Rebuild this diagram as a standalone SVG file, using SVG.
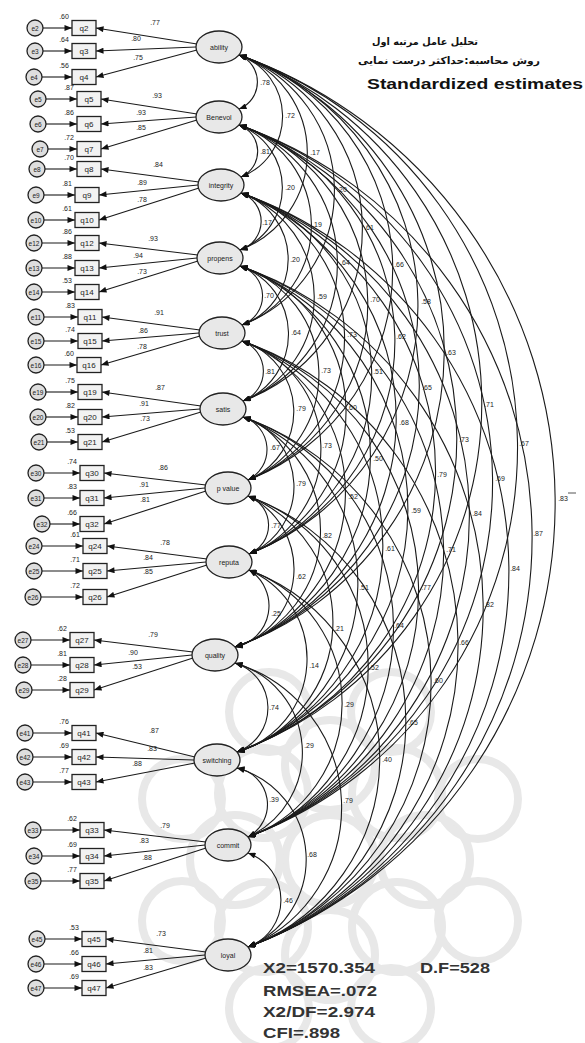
<svg xmlns="http://www.w3.org/2000/svg" width="585" height="1043" viewBox="0 0 585 1043">
<defs>
<style>
.bg{fill:#ffffff}
.wm{fill:none;stroke:#e8e8e8;stroke-width:8}
.ln{stroke:#1a1a1a;stroke-width:1.1;fill:none}
.ld{marker-end:url(#ah)}
.cv{marker-start:url(#ah);marker-end:url(#ah)}
.lat ellipse{fill:#e8e8e8;stroke:#222;stroke-width:1.3}
.obs rect{fill:#f2f2f2;stroke:#222;stroke-width:1.3}
.err circle{fill:#dedede;stroke:#222;stroke-width:1.3}
.t{font-family:"Liberation Sans",Arial,sans-serif;fill:#222;text-anchor:middle}
.s6{font-size:6.5px}
.s7{font-size:7px}
.s8{font-size:8px}
.fa{font-family:"DejaVu Sans","Noto Sans",sans-serif;fill:#111;font-size:10px;font-weight:bold}
.fit{font-family:"Liberation Sans",Arial,sans-serif;font-weight:bold;font-size:15px;fill:#333}
</style>
<marker id="ah" viewBox="0 0 10 8" refX="10" refY="4" markerWidth="9" markerHeight="6" markerUnits="userSpaceOnUse" orient="auto-start-reverse"><path d="M0,0 L10,4 L0,8 z" fill="#111"/></marker>
</defs>
<rect class="bg" x="0" y="0" width="585" height="1043"/>
<g id="watermark" class="wm">
<circle cx="330" cy="860" r="45"/>
<circle cx="425" cy="860" r="45"/><circle cx="397" cy="927" r="45"/><circle cx="330" cy="955" r="45"/><circle cx="263" cy="927" r="45"/>
<circle cx="235" cy="860" r="45"/><circle cx="263" cy="793" r="45"/><circle cx="330" cy="765" r="45"/><circle cx="397" cy="793" r="45"/>
<circle cx="478" cy="921" r="40"/><circle cx="391" cy="1008" r="40"/><circle cx="269" cy="1008" r="40"/><circle cx="182" cy="921" r="40"/>
<circle cx="182" cy="799" r="40"/><circle cx="269" cy="712" r="40"/><circle cx="391" cy="712" r="40"/><circle cx="478" cy="799" r="40"/>
</g>
<g id="connectors" class="ln">
<path class="ld" d="M197,44 L96,28"/><path class="ld" d="M196,47 L96,51"/><path class="ld" d="M197,50 L96,77"/>
<path class="ld" d="M197,114 L101,99"/><path class="ld" d="M196,117 L101,124"/><path class="ld" d="M197,120 L101,149"/>
<path class="ld" d="M199,182 L101,169"/><path class="ld" d="M198,185 L99,195"/><path class="ld" d="M199,188 L99,220"/>
<path class="ld" d="M198,255 L99,243"/><path class="ld" d="M197,258 L99,268"/><path class="ld" d="M198,261 L99,292"/>
<path class="ld" d="M200,330 L102,317"/><path class="ld" d="M199,333 L102,341"/><path class="ld" d="M200,336 L101,365"/>
<path class="ld" d="M201,406 L102,392"/><path class="ld" d="M200,409 L102,417"/><path class="ld" d="M201,412 L102,442"/>
<path class="ld" d="M206,485 L104,473"/><path class="ld" d="M205,488 L104,498"/><path class="ld" d="M206,491 L104,524"/>
<path class="ld" d="M207,559 L107,546"/><path class="ld" d="M206,562 L107,571"/><path class="ld" d="M207,565 L107,597"/>
<path class="ld" d="M193,652 L94,640"/><path class="ld" d="M192,655 L94,665"/><path class="ld" d="M193,658 L94,690"/>
<path class="ld" d="M195,757 L96,733"/><path class="ld" d="M194,760 L96,757"/><path class="ld" d="M195,763 L96,782"/>
<path class="ld" d="M206,842 L104,830"/><path class="ld" d="M205,845 L104,856"/><path class="ld" d="M206,848 L104,881"/>
<path class="ld" d="M206,952 L106,939"/><path class="ld" d="M205,955 L106,964"/><path class="ld" d="M206,958 L106,988"/>
<path class="ld" d="M43,28 L72,28"/><path class="ld" d="M43,51 L72,51"/><path class="ld" d="M42,77 L72,77"/>
<path class="ld" d="M46,99 L77,99"/><path class="ld" d="M46,124 L77,124"/><path class="ld" d="M48,149 L77,149"/>
<path class="ld" d="M45,169 L77,169"/><path class="ld" d="M44,195 L75,195"/><path class="ld" d="M44,220 L75,220"/>
<path class="ld" d="M42,243 L75,243"/><path class="ld" d="M42,268 L75,268"/><path class="ld" d="M42,292 L75,292"/>
<path class="ld" d="M44,317 L78,317"/><path class="ld" d="M44,341 L78,341"/><path class="ld" d="M44,365 L77,365"/>
<path class="ld" d="M46,392 L78,392"/><path class="ld" d="M46,417 L78,417"/><path class="ld" d="M47,442 L78,442"/>
<path class="ld" d="M44,473 L80,473"/><path class="ld" d="M44,498 L80,498"/><path class="ld" d="M50,524 L80,524"/>
<path class="ld" d="M42,546 L83,546"/><path class="ld" d="M42,571 L83,571"/><path class="ld" d="M41,597 L83,597"/>
<path class="ld" d="M31,640 L70,640"/><path class="ld" d="M31,665 L70,665"/><path class="ld" d="M32,690 L70,690"/>
<path class="ld" d="M33,733 L72,733"/><path class="ld" d="M33,757 L72,757"/><path class="ld" d="M33,782 L72,782"/>
<path class="ld" d="M41,830 L80,830"/><path class="ld" d="M42,856 L80,856"/><path class="ld" d="M41,881 L80,881"/>
<path class="ld" d="M45,939 L82,939"/><path class="ld" d="M44,964 L82,964"/><path class="ld" d="M44,988 L82,988"/>
<path class="cv" d="M239,55 A29,29 0 0 1 239,109"/>
<path class="cv" d="M239,55 A65,65 0 0 1 241,177"/>
<path class="cv" d="M239,55 A104,104 0 0 1 240,250"/>
<path class="cv" d="M239,55 A144,144 0 0 1 242,325"/>
<path class="cv" d="M239,55 A184,184 0 0 1 243,401"/>
<path class="cv" d="M239,55 A226,226 0 0 1 248,480"/>
<path class="cv" d="M239,55 A266,266 0 0 1 249,554"/>
<path class="cv" d="M239,55 A315,315 0 0 1 235,647"/>
<path class="cv" d="M239,55 A371,371 0 0 1 237,752"/>
<path class="cv" d="M239,55 A416,416 0 0 1 248,837"/>
<path class="cv" d="M239,55 A475,475 0 0 1 248,947"/>
<path class="cv" d="M239,125 A28,28 0 0 1 241,177"/>
<path class="cv" d="M239,125 A67,67 0 0 1 240,250"/>
<path class="cv" d="M239,125 A106,106 0 0 1 242,325"/>
<path class="cv" d="M239,125 A147,147 0 0 1 243,401"/>
<path class="cv" d="M239,125 A189,189 0 0 1 248,480"/>
<path class="cv" d="M239,125 A228,228 0 0 1 249,554"/>
<path class="cv" d="M239,125 A278,278 0 0 1 235,647"/>
<path class="cv" d="M239,125 A334,334 0 0 1 237,752"/>
<path class="cv" d="M239,125 A379,379 0 0 1 248,837"/>
<path class="cv" d="M239,125 A437,437 0 0 1 248,947"/>
<path class="cv" d="M241,193 A30,30 0 0 1 240,250"/>
<path class="cv" d="M241,193 A70,70 0 0 1 242,325"/>
<path class="cv" d="M241,193 A111,111 0 0 1 243,401"/>
<path class="cv" d="M241,193 A153,153 0 0 1 248,480"/>
<path class="cv" d="M241,193 A192,192 0 0 1 249,554"/>
<path class="cv" d="M241,193 A242,242 0 0 1 235,647"/>
<path class="cv" d="M241,193 A297,297 0 0 1 237,752"/>
<path class="cv" d="M241,193 A343,343 0 0 1 248,837"/>
<path class="cv" d="M241,193 A401,401 0 0 1 248,947"/>
<path class="cv" d="M240,266 A31,31 0 0 1 242,325"/>
<path class="cv" d="M240,266 A72,72 0 0 1 243,401"/>
<path class="cv" d="M240,266 A114,114 0 0 1 248,480"/>
<path class="cv" d="M240,266 A153,153 0 0 1 249,554"/>
<path class="cv" d="M240,266 A203,203 0 0 1 235,647"/>
<path class="cv" d="M240,266 A259,259 0 0 1 237,752"/>
<path class="cv" d="M240,266 A304,304 0 0 1 248,837"/>
<path class="cv" d="M240,266 A362,362 0 0 1 248,947"/>
<path class="cv" d="M242,341 A32,32 0 0 1 243,401"/>
<path class="cv" d="M242,341 A74,74 0 0 1 248,480"/>
<path class="cv" d="M242,341 A113,113 0 0 1 249,554"/>
<path class="cv" d="M242,341 A163,163 0 0 1 235,647"/>
<path class="cv" d="M242,341 A219,219 0 0 1 237,752"/>
<path class="cv" d="M242,341 A264,264 0 0 1 248,837"/>
<path class="cv" d="M242,341 A322,322 0 0 1 248,947"/>
<path class="cv" d="M243,417 A34,34 0 0 1 248,480"/>
<path class="cv" d="M243,417 A73,73 0 0 1 249,554"/>
<path class="cv" d="M243,417 A122,122 0 0 1 235,647"/>
<path class="cv" d="M243,417 A178,178 0 0 1 237,752"/>
<path class="cv" d="M243,417 A223,223 0 0 1 248,837"/>
<path class="cv" d="M243,417 A282,282 0 0 1 248,947"/>
<path class="cv" d="M248,496 A31,31 0 0 1 249,554"/>
<path class="cv" d="M248,496 A81,81 0 0 1 235,647"/>
<path class="cv" d="M248,496 A136,136 0 0 1 237,752"/>
<path class="cv" d="M248,496 A181,181 0 0 1 248,837"/>
<path class="cv" d="M248,496 A240,240 0 0 1 248,947"/>
<path class="cv" d="M249,570 A42,42 0 0 1 235,647"/>
<path class="cv" d="M249,570 A97,97 0 0 1 237,752"/>
<path class="cv" d="M249,570 A142,142 0 0 1 248,837"/>
<path class="cv" d="M249,570 A201,201 0 0 1 248,947"/>
<path class="cv" d="M235,663 A47,47 0 0 1 237,752"/>
<path class="cv" d="M235,663 A93,93 0 0 1 248,837"/>
<path class="cv" d="M235,663 A151,151 0 0 1 248,947"/>
<path class="cv" d="M237,768 A37,37 0 0 1 248,837"/>
<path class="cv" d="M237,768 A95,95 0 0 1 248,947"/>
<path class="cv" d="M248,853 A50,50 0 0 1 248,947"/>
</g>
<g id="edge-labels" class="t s7">
<text x="155" y="25">.77</text><text x="136" y="41">.80</text><text x="138" y="60">.75</text>
<text x="157" y="98">.93</text><text x="141" y="115">.93</text><text x="141" y="130">.85</text>
<text x="158" y="167">.84</text><text x="142" y="185">.89</text><text x="142" y="202">.78</text>
<text x="153" y="241">.93</text><text x="138" y="258">.94</text><text x="142" y="274">.73</text>
<text x="159" y="315">.91</text><text x="143" y="333">.86</text><text x="142" y="349">.78</text>
<text x="160" y="390">.87</text><text x="144" y="406">.91</text><text x="145" y="421">.73</text>
<text x="163" y="470">.86</text><text x="144" y="487">.91</text><text x="145" y="502">.81</text>
<text x="165" y="545">.78</text><text x="148" y="560">.84</text><text x="148" y="574">.85</text>
<text x="153" y="637">.79</text><text x="133" y="655">.90</text><text x="137" y="669">.53</text>
<text x="154" y="733">.87</text><text x="152" y="751">.83</text><text x="137" y="766">.88</text>
<text x="165" y="828">.79</text><text x="144" y="843">.83</text><text x="147" y="860">.88</text>
<text x="161" y="936">.73</text><text x="148" y="953">.81</text><text x="148" y="970">.83</text>
<text x="265" y="85">.78</text><text x="290" y="118">.72</text><text x="315" y="155">.17</text><text x="342" y="192">.20</text>
<text x="369" y="230">.61</text><text x="399" y="267">.66</text><text x="426" y="304">.58</text><text x="451" y="355">.63</text>
<text x="489" y="407">.71</text><text x="524" y="446">.67</text><text x="563" y="501">.83</text>
<text x="265" y="154">.81</text><text x="290" y="190">.20</text><text x="317" y="227">.19</text><text x="345" y="265">.64</text>
<text x="375" y="302">.70</text><text x="401" y="339">.62</text><text x="427" y="390">.65</text><text x="464" y="442">.73</text>
<text x="500" y="481">.69</text><text x="538" y="536">.87</text>
<text x="267" y="225">.17</text><text x="295" y="262">.20</text><text x="322" y="299">.59</text><text x="352" y="337">.73</text>
<text x="378" y="374">.51</text><text x="404" y="425">.68</text><text x="442" y="477">.79</text><text x="477" y="516">.84</text>
<text x="515" y="571">.84</text>
<text x="269" y="298">.70</text><text x="296" y="335">.64</text><text x="326" y="373">.73</text><text x="352" y="410">.60</text>
<text x="378" y="461">.50</text><text x="416" y="513">.59</text><text x="451" y="552">.71</text><text x="489" y="607">.82</text>
<text x="270" y="374">.81</text><text x="301" y="411">.79</text><text x="327" y="448">.73</text><text x="353" y="499">.52</text>
<text x="390" y="551">.61</text><text x="426" y="590">.77</text><text x="464" y="645">.66</text>
<text x="275" y="450">.67</text><text x="301" y="486">.79</text><text x="327" y="538">.82</text><text x="364" y="590">.51</text>
<text x="399" y="628">.64</text><text x="438" y="683">.60</text>
<text x="276" y="528">.77</text><text x="301" y="579">.62</text><text x="339" y="631">.21</text><text x="374" y="670">.52</text>
<text x="413" y="725">.65</text>
<text x="276" y="616">.25</text><text x="314" y="668">.14</text><text x="349" y="707">.29</text><text x="387" y="762">.40</text>
<text x="274" y="710">.74</text><text x="309" y="748">.29</text><text x="348" y="803">.79</text>
<text x="274" y="802">.39</text><text x="312" y="857">.68</text>
<text x="288" y="903">.46</text>
</g>
<g id="latents" class="lat t s7">
<g id="f-ability"><ellipse cx="219" cy="47" rx="23" ry="16"/><text x="219" y="50">ability</text></g>
<g id="f-benevol"><ellipse cx="219" cy="117" rx="23" ry="16"/><text x="219" y="120">Benevol</text></g>
<g id="f-integrity"><ellipse cx="221" cy="185" rx="23" ry="16"/><text x="221" y="188">integrity</text></g>
<g id="f-propens"><ellipse cx="220" cy="258" rx="23" ry="16"/><text x="220" y="261">propens</text></g>
<g id="f-trust"><ellipse cx="222" cy="333" rx="23" ry="16"/><text x="222" y="336">trust</text></g>
<g id="f-satis"><ellipse cx="223" cy="409" rx="23" ry="16"/><text x="223" y="412">satis</text></g>
<g id="f-pvalue"><ellipse cx="228" cy="488" rx="23" ry="16"/><text x="228" y="491">p value</text></g>
<g id="f-reputa"><ellipse cx="229" cy="562" rx="23" ry="16"/><text x="229" y="565">reputa</text></g>
<g id="f-quality"><ellipse cx="215" cy="655" rx="23" ry="16"/><text x="215" y="658">quality</text></g>
<g id="f-switching"><ellipse cx="217" cy="760" rx="23" ry="16"/><text x="217" y="763">switching</text></g>
<g id="f-commit"><ellipse cx="228" cy="845" rx="23" ry="16"/><text x="228" y="848">commit</text></g>
<g id="f-loyal"><ellipse cx="228" cy="955" rx="23" ry="16"/><text x="228" y="958">loyal</text></g>
</g>
<g id="indicators" class="obs t s8">
<g id="q2"><rect x="72" y="20.5" width="24" height="15"/><text x="84" y="31">q2</text><text class="s7" x="64" y="19">.60</text></g>
<g id="q3"><rect x="72" y="43.5" width="24" height="15"/><text x="84" y="54">q3</text><text class="s7" x="64" y="42">.64</text></g>
<g id="q4"><rect x="72" y="69.5" width="24" height="15"/><text x="84" y="80">q4</text><text class="s7" x="64" y="68">.56</text></g>
<g id="q5"><rect x="77" y="91.5" width="24" height="15"/><text x="89" y="102">q5</text><text class="s7" x="69" y="90">.87</text></g>
<g id="q6"><rect x="77" y="116.5" width="24" height="15"/><text x="89" y="127">q6</text><text class="s7" x="69" y="115">.86</text></g>
<g id="q7"><rect x="77" y="141.5" width="24" height="15"/><text x="89" y="152">q7</text><text class="s7" x="69" y="140">.72</text></g>
<g id="q8"><rect x="77" y="161.5" width="24" height="15"/><text x="89" y="172">q8</text><text class="s7" x="69" y="160">.70</text></g>
<g id="q9"><rect x="75" y="187.5" width="24" height="15"/><text x="87" y="198">q9</text><text class="s7" x="67" y="186">.81</text></g>
<g id="q10"><rect x="75" y="212.5" width="24" height="15"/><text x="87" y="223">q10</text><text class="s7" x="67" y="211">.61</text></g>
<g id="q12"><rect x="75" y="235.5" width="24" height="15"/><text x="87" y="246">q12</text><text class="s7" x="67" y="234">.86</text></g>
<g id="q13"><rect x="75" y="260.5" width="24" height="15"/><text x="87" y="271">q13</text><text class="s7" x="67" y="259">.88</text></g>
<g id="q14"><rect x="75" y="284.5" width="24" height="15"/><text x="87" y="295">q14</text><text class="s7" x="67" y="283">.53</text></g>
<g id="q11"><rect x="78" y="309.5" width="24" height="15"/><text x="90" y="320">q11</text><text class="s7" x="70" y="308">.83</text></g>
<g id="q15"><rect x="78" y="333.5" width="24" height="15"/><text x="90" y="344">q15</text><text class="s7" x="70" y="332">.74</text></g>
<g id="q16"><rect x="77" y="357.5" width="24" height="15"/><text x="89" y="368">q16</text><text class="s7" x="69" y="356">.60</text></g>
<g id="q19"><rect x="78" y="384.5" width="24" height="15"/><text x="90" y="395">q19</text><text class="s7" x="70" y="383">.75</text></g>
<g id="q20"><rect x="78" y="409.5" width="24" height="15"/><text x="90" y="420">q20</text><text class="s7" x="70" y="408">.82</text></g>
<g id="q21"><rect x="78" y="434.5" width="24" height="15"/><text x="90" y="445">q21</text><text class="s7" x="70" y="433">.53</text></g>
<g id="q30"><rect x="80" y="465.5" width="24" height="15"/><text x="92" y="476">q30</text><text class="s7" x="72" y="464">.74</text></g>
<g id="q31"><rect x="80" y="490.5" width="24" height="15"/><text x="92" y="501">q31</text><text class="s7" x="72" y="489">.83</text></g>
<g id="q32"><rect x="80" y="516.5" width="24" height="15"/><text x="92" y="527">q32</text><text class="s7" x="72" y="515">.66</text></g>
<g id="q24"><rect x="83" y="538.5" width="24" height="15"/><text x="95" y="549">q24</text><text class="s7" x="75" y="537">.61</text></g>
<g id="q25"><rect x="83" y="563.5" width="24" height="15"/><text x="95" y="574">q25</text><text class="s7" x="75" y="562">.71</text></g>
<g id="q26"><rect x="83" y="589.5" width="24" height="15"/><text x="95" y="600">q26</text><text class="s7" x="75" y="588">.72</text></g>
<g id="q27"><rect x="70" y="632.5" width="24" height="15"/><text x="82" y="643">q27</text><text class="s7" x="62" y="631">.62</text></g>
<g id="q28"><rect x="70" y="657.5" width="24" height="15"/><text x="82" y="668">q28</text><text class="s7" x="62" y="656">.81</text></g>
<g id="q29"><rect x="70" y="682.5" width="24" height="15"/><text x="82" y="693">q29</text><text class="s7" x="62" y="681">.28</text></g>
<g id="q41"><rect x="72" y="725.5" width="24" height="15"/><text x="84" y="736">q41</text><text class="s7" x="64" y="724">.76</text></g>
<g id="q42"><rect x="72" y="749.5" width="24" height="15"/><text x="84" y="760">q42</text><text class="s7" x="64" y="748">.69</text></g>
<g id="q43"><rect x="72" y="774.5" width="24" height="15"/><text x="84" y="785">q43</text><text class="s7" x="64" y="773">.77</text></g>
<g id="q33"><rect x="80" y="822.5" width="24" height="15"/><text x="92" y="833">q33</text><text class="s7" x="72" y="821">.62</text></g>
<g id="q34"><rect x="80" y="848.5" width="24" height="15"/><text x="92" y="859">q34</text><text class="s7" x="72" y="847">.69</text></g>
<g id="q35"><rect x="80" y="873.5" width="24" height="15"/><text x="92" y="884">q35</text><text class="s7" x="72" y="872">.77</text></g>
<g id="q45"><rect x="82" y="931.5" width="24" height="15"/><text x="94" y="942">q45</text><text class="s7" x="74" y="930">.53</text></g>
<g id="q46"><rect x="82" y="956.5" width="24" height="15"/><text x="94" y="967">q46</text><text class="s7" x="74" y="955">.66</text></g>
<g id="q47"><rect x="82" y="980.5" width="24" height="15"/><text x="94" y="991">q47</text><text class="s7" x="74" y="979">.69</text></g>
</g>
<g id="errors" class="err t s6">
<g id="e2"><circle cx="35" cy="28" r="8"/><text x="35" y="30.5">e2</text></g>
<g id="e3"><circle cx="35" cy="51" r="8"/><text x="35" y="53.5">e3</text></g>
<g id="e4"><circle cx="34" cy="77" r="8"/><text x="34" y="79.5">e4</text></g>
<g id="e5"><circle cx="38" cy="99" r="8"/><text x="38" y="101.5">e5</text></g>
<g id="e6"><circle cx="38" cy="124" r="8"/><text x="38" y="126.5">e6</text></g>
<g id="e7"><circle cx="40" cy="149" r="8"/><text x="40" y="151.5">e7</text></g>
<g id="e8"><circle cx="37" cy="169" r="8"/><text x="37" y="171.5">e8</text></g>
<g id="e9"><circle cx="36" cy="195" r="8"/><text x="36" y="197.5">e9</text></g>
<g id="e10"><circle cx="36" cy="220" r="8"/><text x="36" y="222.5">e10</text></g>
<g id="e12"><circle cx="34" cy="243" r="8"/><text x="34" y="245.5">e12</text></g>
<g id="e13"><circle cx="34" cy="268" r="8"/><text x="34" y="270.5">e13</text></g>
<g id="e14"><circle cx="34" cy="292" r="8"/><text x="34" y="294.5">e14</text></g>
<g id="e11"><circle cx="36" cy="317" r="8"/><text x="36" y="319.5">e11</text></g>
<g id="e15"><circle cx="36" cy="341" r="8"/><text x="36" y="343.5">e15</text></g>
<g id="e16"><circle cx="36" cy="365" r="8"/><text x="36" y="367.5">e16</text></g>
<g id="e19"><circle cx="38" cy="392" r="8"/><text x="38" y="394.5">e19</text></g>
<g id="e20"><circle cx="38" cy="417" r="8"/><text x="38" y="419.5">e20</text></g>
<g id="e21"><circle cx="39" cy="442" r="8"/><text x="39" y="444.5">e21</text></g>
<g id="e30"><circle cx="36" cy="473" r="8"/><text x="36" y="475.5">e30</text></g>
<g id="e31"><circle cx="36" cy="498" r="8"/><text x="36" y="500.5">e31</text></g>
<g id="e32"><circle cx="42" cy="524" r="8"/><text x="42" y="526.5">e32</text></g>
<g id="e24"><circle cx="34" cy="546" r="8"/><text x="34" y="548.5">e24</text></g>
<g id="e25"><circle cx="34" cy="571" r="8"/><text x="34" y="573.5">e25</text></g>
<g id="e26"><circle cx="33" cy="597" r="8"/><text x="33" y="599.5">e26</text></g>
<g id="e27"><circle cx="23" cy="640" r="8"/><text x="23" y="642.5">e27</text></g>
<g id="e28"><circle cx="23" cy="665" r="8"/><text x="23" y="667.5">e28</text></g>
<g id="e29"><circle cx="24" cy="690" r="8"/><text x="24" y="692.5">e29</text></g>
<g id="e41"><circle cx="25" cy="733" r="8"/><text x="25" y="735.5">e41</text></g>
<g id="e42"><circle cx="25" cy="757" r="8"/><text x="25" y="759.5">e42</text></g>
<g id="e43"><circle cx="25" cy="782" r="8"/><text x="25" y="784.5">e43</text></g>
<g id="e33"><circle cx="33" cy="830" r="8"/><text x="33" y="832.5">e33</text></g>
<g id="e34"><circle cx="34" cy="856" r="8"/><text x="34" y="858.5">e34</text></g>
<g id="e35"><circle cx="33" cy="881" r="8"/><text x="33" y="883.5">e35</text></g>
<g id="e45"><circle cx="37" cy="939" r="8"/><text x="37" y="941.5">e45</text></g>
<g id="e46"><circle cx="36" cy="964" r="8"/><text x="36" y="966.5">e46</text></g>
<g id="e47"><circle cx="36" cy="988" r="8"/><text x="36" y="990.5">e47</text></g>
</g>
<g id="title">
<text class="fa" x="372" y="45" textLength="106" lengthAdjust="spacingAndGlyphs">تحلیل عامل مرتبه اول</text>
<text class="fa" x="358" y="64" textLength="182" lengthAdjust="spacingAndGlyphs">روش محاسبه:حداکثر درست نمایی</text>
<text x="367" y="89" textLength="216" lengthAdjust="spacingAndGlyphs" style="font-family:'Liberation Sans',Arial,sans-serif;font-weight:bold;font-size:15px;fill:#111">Standardized estimates</text>
</g>
<line x1="568" y1="493" x2="576" y2="493" stroke="#555" stroke-width="1"/>
<g id="fit-indices" class="fit">
<text x="263" y="973" textLength="112" lengthAdjust="spacingAndGlyphs">X2=1570.354</text>
<text x="420" y="973" textLength="70" lengthAdjust="spacingAndGlyphs">D.F=528</text>
<text x="263" y="996" textLength="114" lengthAdjust="spacingAndGlyphs">RMSEA=.072</text>
<text x="263" y="1017" textLength="112" lengthAdjust="spacingAndGlyphs">X2/DF=2.974</text>
<text x="263" y="1038" textLength="77" lengthAdjust="spacingAndGlyphs">CFI=.898</text>
</g>
</svg>
